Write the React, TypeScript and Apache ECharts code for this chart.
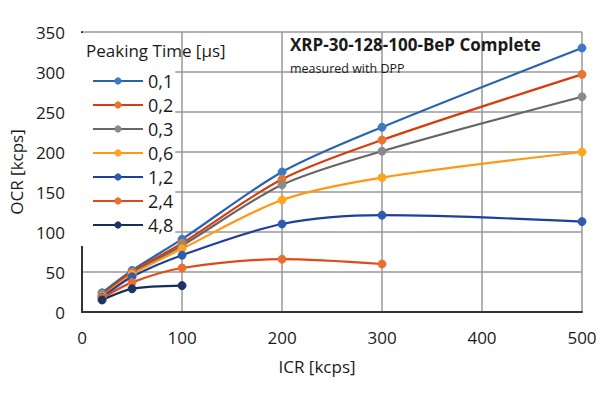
import React, { useEffect, useRef } from "react";
import * as echarts from "echarts";

const icr = [20, 50, 100, 200, 300, 500];
const seriesNames = ["0,1", "0,2", "0,3", "0,6", "1,2", "2,4", "4,8"];
const ocr01 = [24, 52, 91, 175, 231, 330];
const ocr02 = [22, 50, 86, 166, 215, 297];
const ocr03 = [20, 48, 83, 159, 201, 269];
const ocr06 = [19, 47, 79, 140, 168, 200];
const ocr12 = [18, 44, 71, 110, 121, 113];
const ocr24 = [17, 37, 55, 66, 60];
const ocr48 = [15, 29, 33];
const lineColors = ["#2a62b0", "#d63c0e", "#666666", "#ff9810", "#1f3f9c", "#df4a1a", "#172d5c"];
const markerColors = ["#3c78c8", "#e8752e", "#8a8a8a", "#ffa41e", "#2f5ab4", "#e8702e", "#1c3566"];

const FONT = "'Open Sans', sans-serif";

export default function App() {
  const ref = useRef<HTMLDivElement>(null);
  useEffect(() => {
    if (!ref.current) return;
    const chart = echarts.init(ref.current, undefined, { renderer: "svg" });
    const all = [ocr01, ocr02, ocr03, ocr06, ocr12, ocr24, ocr48];
    chart.setOption({
      animation: false,
      backgroundColor: "#ffffff",
      textStyle: { fontFamily: FONT },
      grid: { left: 78, right: 18, top: 32, bottom: 88, containLabel: false },
      xAxis: {
        type: "value",
        min: 0,
        max: 500,
        interval: 100,
        name: "ICR [kcps]",
        nameLocation: "middle",
        nameGap: 46,
        nameTextStyle: { fontSize: 17, color: "#1a1a1a", fontFamily: FONT, padding: [0, 30, 0, 0] },
        axisLine: { show: true, onZero: false, lineStyle: { color: "#333", width: 2 } },
        axisTick: { show: false },
        axisLabel: { fontSize: 17, color: "#1a1a1a", margin: 17, fontFamily: FONT },
        splitLine: { show: true, lineStyle: { color: "#999", width: 1.5 } },
      },
      yAxis: {
        type: "value",
        min: 0,
        max: 350,
        interval: 50,
        name: "OCR [kcps]",
        nameLocation: "middle",
        nameGap: 54,
        nameTextStyle: { fontSize: 17, color: "#1a1a1a", fontFamily: FONT },
        axisLine: { show: true, lineStyle: { color: "#333", width: 2 } },
        axisTick: { show: false },
        axisLabel: { fontSize: 17, color: "#1a1a1a", margin: 17, fontFamily: FONT },
        splitLine: { show: true, lineStyle: { color: "#999", width: 1.5 } },
      },
      legend: {
        orient: "vertical",
        left: 79,
        top: 33,
        padding: [37, 2, 10, 13],
        backgroundColor: "#ffffff",
        itemWidth: 50,
        itemHeight: 9,
        itemGap: 2,
        data: seriesNames,
        textStyle: { fontSize: 18, color: "#1a1a1a", fontFamily: FONT, lineHeight: 22 },
        z: 2,
      },
      graphic: [
        {
          type: "text",
          x: 86,
          y: 42,
          z: 100,
          style: { text: "Peaking Time [µs]", fontSize: 17, fill: "#1a1a1a", fontFamily: FONT },
        },
        {
          type: "text",
          x: 290,
          y: 36,
          z: 100,
          style: { text: "XRP-30-128-100-BeP Complete", fontSize: 17, fontWeight: "bold", fill: "#1a1a1a", fontFamily: FONT },
        },
        {
          type: "text",
          x: 290,
          y: 62,
          z: 100,
          style: { text: "measured with DPP", fontSize: 12.5, fill: "#1a1a1a", fontFamily: FONT },
        },
      ],
      series: all.map((vals, i) => ({
        name: seriesNames[i],
        type: "line",
        smooth: 0.3,
        symbol: "circle",
        symbolSize: 8,
        z: 3,
        data: vals.map((v, j) => [icr[j], v]),
        lineStyle: { color: lineColors[i], width: 2.2 },
        itemStyle: { color: markerColors[i], borderColor: markerColors[i] },
      })),
    });
    return () => chart.dispose();
  }, []);
  return <div ref={ref} style={{ width: 600, height: 400, position: "absolute", left: 0, top: 0 }} />;
}
